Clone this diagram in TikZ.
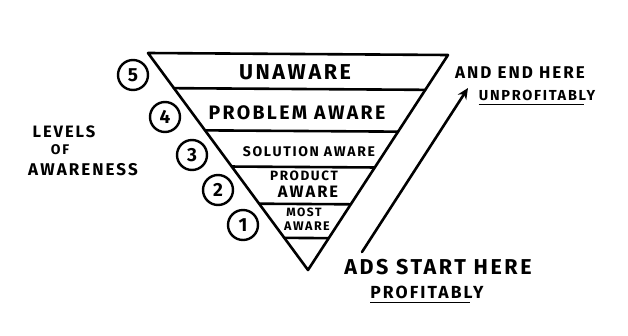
\documentclass[tikz,border=0pt]{standalone}
\usepackage{fontspec}
\setmainfont{Fira Sans}[LetterSpace=12]
\usetikzlibrary{arrows.meta,calc}
\newcommand{\fs}[1]{\fontsize{#1}{#1}\selectfont\bfseries}
\begin{document}
\begin{tikzpicture}[x=1pt,y=-1pt,
  ink/.style={line width=2.6pt,line join=round,line cap=round},
  num/.style={draw,circle,line width=2.4pt,minimum size=30pt,inner sep=0pt,font=\fs{19}},
  lbl/.style={inner sep=0pt,align=center},
  uline/.style={line width=1.8pt},
]
\useasboundingbox (0,0) rectangle (628,335);
\coordinate (tl) at (148,53);
\coordinate (tr) at (448,55);
\coordinate (ap) at (308,270);
\draw[ink] (tl) -- (tr) -- (ap) -- cycle;
% level dividers
\foreach \y/\n in {89/a,131/b,167/c,204/d,238/e}{
  \pgfmathsetmacro{\t}{(\y-54)/(270-54)}
  \coordinate (L\n) at ($(tl)!\t!(ap)$);
  \coordinate (R\n) at ($(tr)!\t!(ap)$);
  \draw[ink] (L\n) -- (R\n);
}
% level texts
\node[lbl,font=\fs{21.5}] (t5) at (295,72) {UNAWARE};
\node[lbl,font=\fs{19.5}] (t4) at (297,113) {PROBLEM AWARE};
\node[lbl,font=\fs{14}] (t3) at (309,152) {SOLUTION AWARE};
\node[lbl,font=\fs{13.5}] (t2a) at (304,176) {PRODUCT};
\node[lbl,font=\fs{16.5}] (t2b) at (308,192) {AWARE};
\node[lbl,font=\fs{12}] (t1a) at (304,212) {MOST};
\node[lbl,font=\fs{12.5}] (t1b) at (307,226) {AWARE};
% numbers
\node[num] (n5) at (133,75) {5};
\node[num] (n4) at (165,117) {4};
\node[num] (n3) at (192,155) {3};
\node[num] (n2) at (218,190) {2};
\node[num] (n1) at (243,225) {1};
% left label
\node[lbl,font=\fs{16.5}] (lev) at (64,132) {LEVELS};
\node[lbl,font=\fs{14}] (of) at (60,150) {OF};
\node[lbl,font=\fs{17}] (awr) at (83,170) {AWARENESS};
% right texts
\node[lbl,font=\fs{17}] (end) at (520,73) {AND END HERE};
\node[lbl,font=\fs{14.5}] (unp) at (537,95) {UNPROFITABLY};
\draw[uline] ($(unp.south west)+(0,4)$) -- ($(unp.south east)+(-11,4)$);
\node[lbl,font=\fs{21.5}] (ads) at (438,267) {ADS START HERE};
\node[lbl,font=\fs{17.5}] (pro) at (427,292) {PROFITABLY};
\draw[uline] ($(pro.south west)+(0,4)$) -- ($(pro.south east)+(-14,4)$);
% arrow
\coordinate (as) at (362,252);
\coordinate (ae) at (468,88);
\draw[ink,-{Stealth[length=11pt,width=10pt]}] (as) -- (ae);
\end{tikzpicture}
\end{document}
